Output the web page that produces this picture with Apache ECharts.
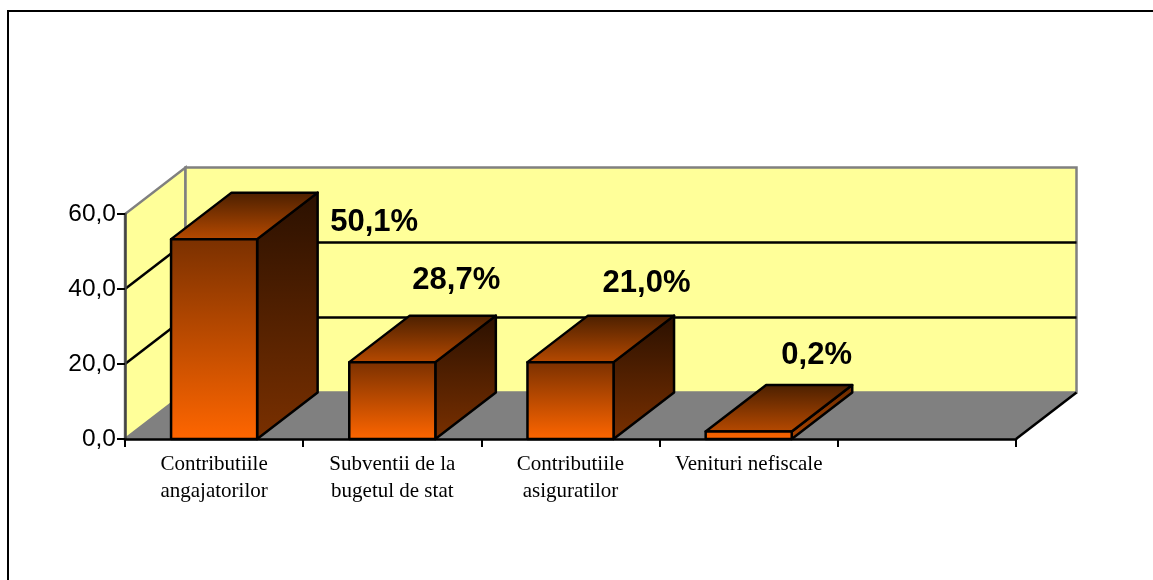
<!DOCTYPE html>
<html>
<head>
<meta charset="utf-8">
<style>
  html, body { margin: 0; padding: 0; background: #fff; }
  #main { width: 1153px; height: 580px; }
</style>
<script src="https://cdn.jsdelivr.net/npm/echarts@6/dist/echarts.min.js"></script>
</head>
<body>
<div id="main"></div>
<script>
  // data
  var categories = ['Contributiile\nangajatorilor', 'Subventii de la\nbugetul de stat', 'Contributiile\nasiguratilor', 'Venituri nefiscale', '']
  var barValues = [53.3, 20.5, 20.5, 2]
  var barLabels = ['50,1%', '28,7%', '21,0%', '0,2%']
  var yTicks = [0, 20, 40, 60]

  // 3d look: how far the back of the box sits from the front
  var depthX = 60.5
  var depthY = -46.5
  // hand placed data labels, offset from the centre/top of the front face
  var labelDx = [160, 64, 76, 68]
  var labelDy = [-17, -82, -79, -76]

  var myChart = echarts.init(document.getElementById('main'))

  function grad(top, bottom) {
    return new echarts.graphic.LinearGradient(0, 0, 0, 1, [
      { offset: 0, color: top },
      { offset: 1, color: bottom }
    ])
  }

  function poly(points, style, z2) {
    return { type: 'polygon', z2: z2 || 0, shape: { points: points }, style: style }
  }

  function line(x1, y1, x2, y2, color, width) {
    return {
      type: 'line',
      shape: { x1: x1, y1: y1, x2: x2, y2: y2 },
      style: { stroke: color, lineWidth: width, fill: null }
    }
  }

  // walls, floor and gridlines
  function renderWalls(params, api) {
    var left = params.coordSys.x
    var right = left + params.coordSys.width
    var y0 = api.coord([0, 0])[1]
    var yMax = api.coord([0, yTicks[yTicks.length - 1]])[1]
    var kids = []
    kids.push(poly([[left, y0], [left + depthX, y0 + depthY], [left + depthX, yMax + depthY], [left, yMax]],
      { fill: '#ffff99', stroke: '#808080', lineWidth: 2.5 }))
    kids.push(poly([[left + depthX, y0 + depthY], [right + depthX, y0 + depthY], [right + depthX, yMax + depthY], [left + depthX, yMax + depthY]],
      { fill: '#ffff99', stroke: '#808080', lineWidth: 2.5 }))
    kids.push(poly([[left, y0], [right, y0], [right + depthX, y0 + depthY], [left + depthX, y0 + depthY]],
      { fill: '#808080' }))
    kids.push(line(right, y0, right + depthX, y0 + depthY, '#000', 2.5))
    for (var i = 1; i < yTicks.length - 1; i++) {
      var y = api.coord([0, yTicks[i]])[1]
      kids.push(line(left, y, left + depthX, y + depthY, '#000', 2.5))
      kids.push(line(left + depthX, y + depthY, right + depthX, y + depthY, '#000', 2.5))
    }
    return { type: 'group', children: kids }
  }

  function renderBar(params, api) {
    var i = api.value(0)
    var top = api.coord([i, api.value(1)])
    var bottom = api.coord([i, 0])
    var w = api.size([1, 0])[0] * 0.483
    var x0 = top[0] - w / 2
    var x1 = top[0] + w / 2
    var yT = top[1]
    var yB = bottom[1]
    var edge = { stroke: '#000', lineWidth: 2.5, lineJoin: 'round' }
    // very short bars stay close to the bottom colour of the ramp
    var flat = yB - yT < 20
    var sideFill = flat ? grad('#6a2b00', '#a84400') : grad('#2a1000', '#7a3000')
    var frontFill = flat ? grad('#e85c00', '#ff6600') : grad('#7a3000', '#ff6600')
    return {
      type: 'group',
      children: [
        poly([[x1, yT], [x1 + depthX, yT + depthY], [x1 + depthX, yB + depthY], [x1, yB]],
          Object.assign({ fill: sideFill }, edge)),
        poly([[x0, yT], [x1, yT], [x1 + depthX, yT + depthY], [x0 + depthX, yT + depthY]],
          Object.assign({ fill: grad('#4a1f00', '#b84a00') }, edge)),
        poly([[x0, yT], [x1, yT], [x1, yB], [x0, yB]],
          Object.assign({ fill: frontFill }, edge)),
        {
          type: 'text',
          style: {
            x: top[0] + labelDx[i],
            y: yT + labelDy[i],
            text: barLabels[i],
            fill: '#000',
            font: 'bold 31px "Liberation Sans", Arial, sans-serif',
            align: 'center',
            verticalAlign: 'middle'
          }
        }
      ]
    }
  }

  var option = {
    animation: false,
    backgroundColor: '#fff',
    grid: { left: 125, right: 137, top: 214, bottom: 141, containLabel: false },
    xAxis: {
      type: 'category',
      data: categories,
      z: 5,
      axisLine: { lineStyle: { color: '#000', width: 2.5 } },
      axisTick: { show: true, length: 8, lineStyle: { color: '#000', width: 2 } },
      axisLabel: {
        interval: 0,
        margin: 12,
        color: '#000',
        fontFamily: '"Liberation Serif", "Times New Roman", serif',
        fontSize: 21,
        lineHeight: 27
      }
    },
    yAxis: {
      type: 'value',
      min: 0,
      max: 60,
      interval: 20,
      z: 5,
      splitLine: { show: false },
      axisLine: { show: true, lineStyle: { color: '#444', width: 2.5 } },
      axisTick: { show: true, length: 8, lineStyle: { color: '#000', width: 2 } },
      axisLabel: {
        margin: 9,
        color: '#000',
        fontFamily: '"Liberation Sans", Arial, sans-serif',
        fontSize: 24.5,
        formatter: function (v) { return v.toFixed(1).replace('.', ',') }
      }
    },
    series: [
      { type: 'custom', silent: true, clip: false, z: 1, data: [[0, 0]], renderItem: renderWalls },
      {
        type: 'custom',
        silent: true,
        clip: false,
        z: 2,
        data: barValues.map(function (v, i) { return [i, v] }),
        renderItem: renderBar
      }
    ],
    graphic: [{
      type: 'rect',
      silent: true,
      shape: { x: 8, y: 11, width: 1300, height: 800 },
      style: { fill: 'none', stroke: '#000', lineWidth: 2 }
    }]
  }

  myChart.setOption(option)
</script>
</body>
</html>
